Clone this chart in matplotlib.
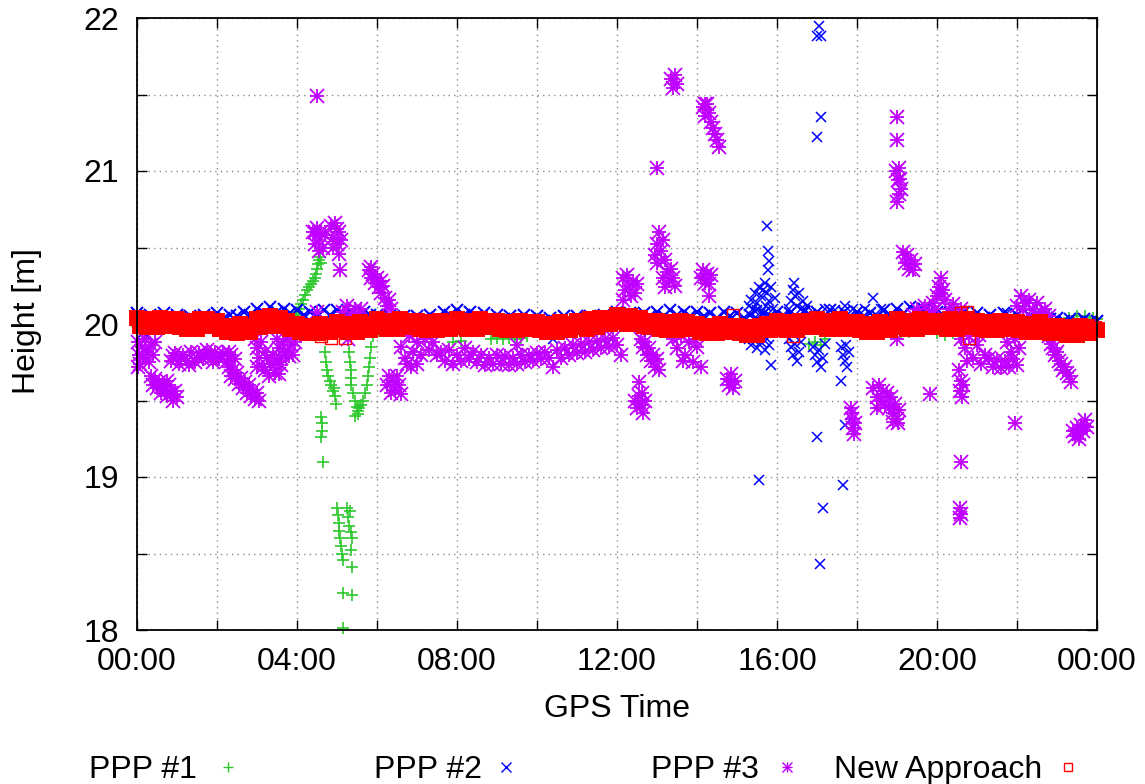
import numpy as np
import matplotlib
matplotlib.use('Agg')
import matplotlib.pyplot as plt
from matplotlib.lines import Line2D
from matplotlib.ticker import FixedLocator, FixedFormatter

plt.rcParams['font.family'] = ['Liberation Sans', 'DejaVu Sans']

series_names = ['PPP #1', 'PPP #2', 'PPP #3', 'New Approach']
series_colors = ['#2ec82e', '#0000ff', '#c000ff', '#ff0000']

hour_ticks = [0, 2, 4, 6, 8, 10, 12, 14, 16, 18, 20, 22, 24]
hour_labels = ['00:00', '', '04:00', '', '08:00', '', '12:00', '', '16:00', '', '20:00', '', '00:00']
height_ticks = [18, 18.5, 19, 19.5, 20, 20.5, 21, 21.5, 22]
height_labels = ['18', '', '19', '', '20', '', '21', '', '22']

# New Approach heights, one row per hour, 5 min epochs
new_h = [
    20.04, 19.99, 20.02, 19.98, 20.03, 20.01, 19.98, 20.04, 20.00, 20.03, 19.99, 20.02,
    20.03, 19.98, 20.01, 19.97, 20.02, 20.00, 19.97, 20.03, 19.99, 20.03, 19.99, 20.02,
    20.02, 19.97, 19.99, 19.95, 19.99, 19.97, 19.94, 20.00, 19.96, 19.99, 19.95, 19.98,
    20.03, 19.98, 20.04, 19.99, 20.05, 20.02, 19.99, 20.04, 19.99, 20.02, 19.97, 20.00,
    20.00, 19.95, 19.98, 19.94, 19.99, 19.97, 19.94, 20.00, 19.96, 19.99, 19.95, 19.98,
    20.01, 19.96, 19.99, 19.95, 20.00, 19.98, 19.95, 20.01, 19.97, 20.00, 19.96, 19.99,
    20.03, 19.98, 20.01, 19.97, 20.02, 20.00, 19.97, 20.03, 19.99, 20.02, 19.98, 20.01,
    20.02, 19.97, 20.00, 19.96, 20.01, 19.99, 19.96, 20.02, 19.98, 20.01, 19.97, 20.00,
    20.03, 19.98, 20.01, 19.97, 20.02, 20.00, 19.97, 20.03, 19.99, 20.02, 19.98, 20.01,
    20.02, 19.97, 20.00, 19.96, 20.01, 19.99, 19.96, 20.02, 19.98, 20.01, 19.97, 20.00,
    20.01, 19.96, 19.99, 19.95, 20.00, 19.98, 19.95, 20.01, 19.97, 20.00, 19.96, 19.99,
    20.02, 19.98, 20.01, 19.97, 20.03, 20.00, 19.98, 20.04, 20.00, 20.04, 20.00, 20.03,
    20.06, 20.01, 20.04, 20.00, 20.05, 20.03, 20.00, 20.04, 19.99, 20.02, 19.98, 20.01,
    20.02, 19.97, 20.00, 19.96, 20.01, 19.99, 19.96, 20.02, 19.98, 20.01, 19.97, 20.00,
    20.00, 19.95, 19.98, 19.94, 19.99, 19.97, 19.94, 20.00, 19.96, 19.99, 19.95, 19.98,
    19.99, 19.94, 19.97, 19.93, 19.98, 19.96, 19.93, 19.99, 19.96, 20.00, 19.96, 19.99,
    20.02, 19.97, 20.00, 19.96, 20.01, 19.99, 19.96, 20.02, 19.98, 20.02, 19.98, 20.01,
    20.03, 19.98, 20.01, 19.97, 20.02, 20.00, 19.97, 20.03, 19.99, 20.01, 19.97, 20.00,
    20.01, 19.96, 19.99, 19.95, 20.00, 19.98, 19.95, 20.01, 19.97, 20.00, 19.96, 19.99,
    20.03, 19.98, 20.01, 19.97, 20.02, 20.00, 19.97, 20.03, 19.99, 20.02, 19.98, 20.01,
    20.02, 19.98, 20.02, 19.97, 20.03, 20.00, 19.97, 20.02, 19.99, 20.03, 19.98, 20.01,
    20.02, 19.97, 20.00, 19.96, 20.01, 19.99, 19.96, 20.02, 19.98, 20.01, 19.97, 20.00,
    20.01, 19.96, 19.99, 19.95, 20.00, 19.98, 19.95, 20.01, 19.96, 19.99, 19.94, 19.97,
    19.99, 19.94, 19.97, 19.93, 19.98, 19.96, 19.93, 19.99, 19.95, 19.98, 19.94, 19.97,
    19.96,
]
new_extra = [(4.6, 19.92), (4.85, 19.91), (5.2, 19.91), (20.6, 20.07), (20.75, 20.08),
             (20.8, 19.91), (14.9, 20.06), (16.4, 19.92)]

# PPP #2 heights, one row per hour, 10 min epochs
ppp2_band = [
    20.07, 20.04, 20.06, 20.03, 20.07, 20.04,
    20.06, 20.03, 20.05, 20.02, 20.06, 20.04,
    20.07, 20.04, 20.06, 20.05, 20.08, 20.06,
    20.10, 20.07, 20.11, 20.08, 20.10, 20.07,
    20.09, 20.06, 20.08, 20.05, 20.09, 20.06,
    20.09, 20.06, 20.08, 20.05, 20.08, 20.06,
    20.06, 20.03, 20.05, 20.02, 20.05, 20.03,
    20.05, 20.03, 20.06, 20.04, 20.08, 20.06,
    20.09, 20.06, 20.08, 20.05, 20.07, 20.04,
    20.06, 20.03, 20.05, 20.02, 20.06, 20.03,
    20.05, 20.02, 20.04, 20.01, 20.05, 20.02,
    20.05, 20.02, 20.05, 20.03, 20.06, 20.04,
    20.08, 20.05, 20.07, 20.04, 20.07, 20.05,
    20.08, 20.05, 20.09, 20.06, 20.08, 20.05,
    20.08, 20.05, 20.07, 20.04, 20.08, 20.05,
    20.07, 20.04, 20.06, 20.03, 20.07, 20.05,
    20.08, 20.05, 20.07, 20.04, 20.08, 20.06,
    20.08, 20.05, 20.09, 20.06, 20.08, 20.05,
    20.08, 20.05, 20.07, 20.05, 20.09, 20.06,
    20.10, 20.07, 20.11, 20.08, 20.10, 20.07,
    20.08, 20.05, 20.07, 20.04, 20.08, 20.05,
    20.07, 20.04, 20.06, 20.03, 20.07, 20.04,
    20.06, 20.03, 20.05, 20.02, 20.05, 20.03,
    20.04, 20.02, 20.03, 20.01, 20.03, 20.01,
    20.02,
]
ppp2_extra = [
    (0.1, 19.93), (0.25, 19.92), (10.4, 19.9),
    (15.3, 20.12), (15.35, 20.16), (15.4, 20.1), (15.45, 20.2), (15.5, 20.14), (15.55, 20.24),
    (15.6, 20.18), (15.65, 20.22), (15.7, 20.27), (15.72, 20.12), (15.75, 20.2), (15.8, 20.15),
    (15.85, 20.24), (15.9, 20.1), (15.95, 20.17), (15.6, 20.08), (15.5, 20.09),
    (15.78, 20.35), (15.8, 20.41), (15.78, 20.48), (15.75, 20.64),
    (15.3, 19.9), (15.35, 19.86), (15.4, 19.9), (15.5, 19.84), (15.6, 19.88), (15.7, 19.83),
    (15.75, 19.9), (15.8, 19.86), (15.85, 19.73), (15.55, 18.98),
    (16.3, 20.1), (16.35, 20.15), (16.4, 20.22), (16.42, 20.27), (16.45, 20.18), (16.5, 20.12),
    (16.55, 20.2), (16.6, 20.1), (16.65, 20.15), (16.7, 20.09), (16.75, 20.12),
    (16.3, 19.9), (16.35, 19.85), (16.4, 19.8), (16.45, 19.87), (16.5, 19.76), (16.55, 19.82),
    (16.6, 19.88),
    (16.9, 19.85), (16.95, 19.8), (17.0, 19.75), (17.05, 19.83), (17.1, 19.72), (17.15, 19.78),
    (17.2, 19.87),
    (17.6, 19.85), (17.65, 19.8), (17.7, 19.76), (17.72, 19.86), (17.75, 19.72), (17.8, 19.82),
    (17.2, 20.1), (17.45, 20.09), (17.7, 20.12), (17.9, 20.1), (18.4, 20.17), (18.2, 20.1),
    (18.6, 20.1), (21.75, 20.07),
    (17.05, 21.95), (17.0, 21.88), (17.1, 21.88), (17.1, 21.35), (17.0, 21.22),
    (17.0, 19.26), (17.15, 18.8), (17.08, 18.43), (17.65, 18.95), (17.7, 19.34), (17.6, 19.63),
]

# PPP #1 heights (hour, metres)
ppp1 = [
    (0.0, 19.99), (0.3, 20.0), (0.6, 19.99), (0.9, 20.0), (1.2, 19.99), (1.5, 20.01),
    (1.8, 20.0), (2.1, 19.98), (2.4, 19.97), (2.7, 19.99), (3.0, 20.01), (3.3, 20.0),
    (3.6, 19.99),
    (3.95, 20.06), (4.0, 20.08), (4.05, 20.1), (4.1, 20.13), (4.15, 20.16), (4.2, 20.19),
    (4.25, 20.22), (4.3, 20.24), (4.35, 20.26), (4.4, 20.28), (4.45, 20.3), (4.48, 20.33),
    (4.5, 20.36), (4.52, 20.39), (4.55, 20.42), (4.58, 20.44), (4.6, 20.4),
    (4.6, 19.39), (4.62, 19.35), (4.63, 19.3), (4.6, 19.26), (4.65, 19.1),
    (4.7, 19.82), (4.72, 19.75), (4.75, 19.7), (4.78, 19.66), (4.82, 19.63), (4.86, 19.6),
    (4.9, 19.56), (4.95, 19.53), (4.97, 19.48), (4.93, 19.58),
    (5.0, 18.8), (5.02, 18.75), (5.04, 18.7), (5.06, 18.65), (5.08, 18.6), (5.1, 18.55),
    (5.12, 18.5), (5.14, 18.46), (5.25, 18.8), (5.28, 18.74), (5.3, 18.68), (5.33, 18.78),
    (5.36, 18.64), (5.38, 18.6), (5.35, 18.52), (5.37, 18.41), (5.15, 18.24), (5.38, 18.23),
    (5.16, 18.01),
    (5.3, 19.82), (5.32, 19.75), (5.34, 19.7), (5.35, 19.65), (5.36, 19.6), (5.4, 19.55),
    (5.45, 19.5), (5.5, 19.46), (5.52, 19.43), (5.55, 19.45), (5.6, 19.47), (5.65, 19.5),
    (5.7, 19.55), (5.75, 19.6), (5.78, 19.66), (5.8, 19.72), (5.83, 19.78), (5.86, 19.85),
    (5.9, 19.92), (5.95, 19.97), (5.45, 19.4), (5.53, 19.41),
    (6.3, 20.0), (6.6, 19.99), (6.9, 20.0), (7.2, 19.99), (7.5, 20.0), (7.9, 19.88),
    (8.1, 19.89), (8.4, 19.99), (8.85, 19.9), (9.0, 19.91), (9.15, 19.9), (9.3, 19.91),
    (9.45, 19.9), (9.6, 19.91), (9.75, 19.92), (10.0, 19.98), (10.5, 19.99), (11.0, 20.0),
    (11.5, 20.01), (12.0, 20.02), (12.5, 20.0), (13.0, 19.99), (13.5, 19.98), (14.0, 19.97),
    (14.5, 19.97), (15.0, 19.96), (15.5, 19.97), (16.0, 19.98), (16.5, 19.99),
    (16.8, 19.87), (16.95, 19.88), (17.1, 19.86), (17.2, 19.9), (17.5, 19.99), (18.0, 19.98),
    (18.5, 19.99), (18.9, 19.95), (19.1, 19.94), (19.3, 19.95), (19.6, 19.99),
    (20.0, 19.94), (20.2, 19.93), (20.4, 19.94), (20.6, 19.95), (21.0, 19.99), (21.5, 19.99),
    (22.0, 19.98), (22.5, 19.98), (23.0, 19.99),
    (23.3, 20.04), (23.5, 20.05), (23.7, 20.05), (23.9, 20.04), (24.0, 20.03),
]

# PPP #3 heights (hour, metres)
ppp3 = [
    (0.02, 19.88), (0.05, 19.8), (0.08, 19.74), (0.12, 19.85), (0.16, 19.78), (0.2, 19.9),
    (0.25, 19.82), (0.3, 19.75), (0.35, 19.86), (0.4, 19.8), (0.45, 19.88), (0.03, 19.72),
    (0.35, 19.66), (0.4, 19.6), (0.45, 19.64), (0.5, 19.58), (0.55, 19.62), (0.6, 19.55),
    (0.65, 19.6), (0.7, 19.57), (0.75, 19.53), (0.8, 19.6), (0.85, 19.55), (0.9, 19.5),
    (0.95, 19.56), (1.0, 19.52), (0.75, 19.63),
    (0.85, 19.76), (0.95, 19.81), (1.05, 19.74), (1.15, 19.8), (1.25, 19.76), (1.35, 19.82),
    (1.45, 19.75), (1.55, 19.81), (1.65, 19.77), (1.75, 19.83), (1.85, 19.78), (1.95, 19.82),
    (2.05, 19.77), (2.15, 19.81), (2.25, 19.76), (2.35, 19.8), (2.45, 19.77),
    (0.9, 19.79), (1.1, 19.78), (1.3, 19.73), (1.5, 19.78), (1.7, 19.8), (1.9, 19.75),
    (2.1, 19.79), (2.3, 19.82),
    (2.3, 19.72), (2.35, 19.66), (2.4, 19.7), (2.45, 19.64), (2.5, 19.68), (2.55, 19.61),
    (2.6, 19.65), (2.65, 19.58), (2.7, 19.62), (2.75, 19.55), (2.8, 19.6), (2.85, 19.53),
    (2.9, 19.57), (2.95, 19.51), (3.0, 19.55), (3.05, 19.5),
    (2.95, 19.9), (3.0, 19.84), (3.05, 19.78), (3.1, 19.88), (3.15, 19.72), (3.2, 19.82),
    (3.0, 19.72),
    (3.2, 19.7), (3.25, 19.78), (3.3, 19.66), (3.35, 19.74), (3.4, 19.8), (3.45, 19.68),
    (3.5, 19.75), (3.55, 19.67), (3.6, 19.73),
    (3.5, 19.9), (3.55, 19.84), (3.6, 19.78), (3.65, 19.88), (3.7, 19.82), (3.75, 19.9),
    (3.8, 19.79), (3.85, 19.86), (3.9, 19.8), (3.95, 19.88),
    (4.5, 21.49),
    (4.4, 20.6), (4.45, 20.52), (4.5, 20.63), (4.55, 20.55), (4.6, 20.6), (4.65, 20.5),
    (4.7, 20.58), (4.45, 20.6), (4.55, 20.48),
    (4.85, 20.64), (4.9, 20.56), (4.95, 20.66), (5.0, 20.52), (5.05, 20.6), (5.1, 20.55),
    (5.0, 20.62), (4.9, 20.5),
    (5.05, 20.46), (5.08, 20.35), (4.5, 20.08),
    (5.15, 20.08), (5.25, 20.12), (5.35, 20.06), (5.45, 20.1), (5.55, 20.05), (5.6, 20.1),
    (5.28, 19.9),
    (5.8, 20.35), (5.85, 20.3), (5.9, 20.33), (5.95, 20.27), (6.0, 20.3), (6.05, 20.24),
    (6.1, 20.2), (6.15, 20.25), (6.2, 20.17), (6.25, 20.12), (6.3, 20.16), (6.35, 20.1),
    (5.85, 20.37), (6.1, 20.28),
    (6.25, 19.6), (6.3, 19.66), (6.35, 19.55), (6.4, 19.63), (6.45, 19.57), (6.5, 19.66),
    (6.55, 19.6), (6.6, 19.54),
    (6.6, 19.85), (6.7, 19.78), (6.8, 19.92), (6.85, 19.72), (6.9, 19.82), (7.0, 19.88),
    (7.1, 19.8), (7.2, 19.9), (7.3, 19.83), (7.4, 19.88), (7.5, 19.8), (6.75, 19.74),
    (7.0, 19.74),
    (7.6, 19.82), (7.7, 19.76), (7.8, 19.83), (7.9, 19.74), (8.0, 19.8), (8.1, 19.76),
    (8.2, 19.84), (8.3, 19.77), (8.4, 19.82), (8.5, 19.75), (8.6, 19.8), (8.7, 19.73),
    (8.8, 19.78), (8.9, 19.74),
    (9.0, 19.8), (9.1, 19.74), (9.2, 19.79), (9.3, 19.73), (9.4, 19.78), (9.5, 19.74),
    (9.6, 19.8), (9.7, 19.75), (9.8, 19.8), (9.9, 19.76), (10.0, 19.81), (10.1, 19.77),
    (10.2, 19.82), (10.3, 19.78), (10.4, 19.72), (9.5, 19.86),
    (10.5, 19.83), (10.6, 19.78), (10.7, 19.84), (10.8, 19.8), (10.9, 19.86), (11.0, 19.81),
    (11.1, 19.87), (11.2, 19.82), (11.3, 19.88), (11.4, 19.83), (11.5, 19.89), (11.6, 19.84),
    (11.7, 19.9), (11.8, 19.85), (11.9, 19.91), (12.0, 19.86), (12.1, 19.8),
    (12.15, 20.3), (12.2, 20.22), (12.25, 20.32), (12.3, 20.25), (12.35, 20.18), (12.4, 20.28),
    (12.45, 20.2), (12.5, 20.26), (12.15, 20.16),
    (12.6, 19.9), (12.65, 19.85), (12.7, 19.88), (12.75, 19.8), (12.8, 19.84), (12.85, 19.76),
    (12.9, 19.8), (12.95, 19.72), (13.0, 19.77), (13.05, 19.7),
    (12.45, 19.5), (12.5, 19.45), (12.55, 19.53), (12.6, 19.47), (12.65, 19.42), (12.7, 19.5),
    (12.55, 19.62), (12.62, 19.55),
    (13.0, 21.02),
    (12.95, 20.45), (13.0, 20.52), (13.05, 20.6), (13.1, 20.48), (13.15, 20.55), (13.2, 20.42),
    (13.0, 20.4),
    (13.15, 20.3), (13.2, 20.24), (13.25, 20.34), (13.3, 20.28), (13.35, 20.36), (13.4, 20.3),
    (13.45, 20.25),
    (13.35, 21.6), (13.4, 21.54), (13.45, 21.63), (13.5, 21.57),
    (14.15, 21.42), (14.2, 21.36), (14.25, 21.44), (14.3, 21.38), (14.35, 21.32), (14.4, 21.28),
    (14.45, 21.24), (14.5, 21.2), (14.55, 21.16), (14.2, 21.44),
    (14.1, 20.3), (14.15, 20.35), (14.2, 20.27), (14.25, 20.33), (14.3, 20.26), (14.35, 20.32),
    (14.3, 20.18),
    (13.4, 19.9), (13.5, 19.84), (13.6, 19.92), (13.7, 19.8), (13.8, 19.88), (13.9, 19.75),
    (14.0, 19.85), (14.1, 19.72), (13.65, 19.76), (13.95, 19.9),
    (14.75, 19.64), (14.8, 19.6), (14.85, 19.67), (14.9, 19.58), (14.95, 19.63),
    (17.85, 19.45), (17.88, 19.38), (17.9, 19.32), (17.92, 19.28), (17.88, 19.42),
    (17.95, 19.35),
    (18.4, 19.58), (18.5, 19.52), (18.55, 19.6), (18.6, 19.5), (18.65, 19.56), (18.7, 19.47),
    (18.75, 19.55), (18.8, 19.45), (18.85, 19.52), (18.9, 19.42), (18.95, 19.48), (19.0, 19.38),
    (19.02, 19.35), (19.05, 19.44), (18.9, 19.36), (18.5, 19.45),
    (19.0, 21.35), (19.0, 21.2),
    (18.98, 21.0), (19.02, 20.94), (19.06, 21.02), (19.1, 20.88), (19.04, 20.85), (19.08, 20.95),
    (19.0, 20.8),
    (19.15, 20.47), (19.2, 20.4), (19.25, 20.45), (19.3, 20.36), (19.35, 20.42), (19.4, 20.35),
    (19.45, 20.39),
    (19.4, 20.06), (19.5, 20.1), (19.6, 20.05), (19.7, 20.12), (19.8, 20.08), (19.9, 20.14),
    (20.0, 20.18), (20.05, 20.24), (20.1, 20.3), (20.15, 20.22), (20.2, 20.16), (20.3, 20.1),
    (20.4, 20.13), (20.5, 20.07), (20.6, 20.1), (20.1, 20.2), (19.95, 20.1),
    (19.83, 19.54), (19.0, 19.9),
    (20.6, 19.9), (20.7, 19.84), (20.8, 19.92), (20.9, 19.78), (21.0, 19.86), (21.1, 19.74),
    (21.2, 19.8), (20.75, 19.76), (21.05, 19.93),
    (20.55, 19.7), (20.6, 19.63), (20.58, 19.56), (20.65, 19.6), (20.62, 19.52),
    (20.6, 19.1), (20.58, 18.8), (20.6, 18.76), (20.58, 18.73),
    (21.3, 19.78), (21.4, 19.72), (21.5, 19.77), (21.6, 19.71), (21.7, 19.76), (21.8, 19.72),
    (21.9, 19.77), (22.0, 19.73),
    (21.75, 19.88), (21.85, 19.82), (21.95, 19.9), (22.05, 19.84),
    (21.95, 19.35),
    (22.0, 20.12), (22.1, 20.18), (22.2, 20.14), (22.3, 20.16), (22.4, 20.1), (22.5, 20.14),
    (22.6, 20.08), (22.7, 20.1), (22.8, 20.05), (22.15, 20.09), (22.45, 20.06),
    (22.8, 19.92), (22.85, 19.87), (22.9, 19.84), (22.95, 19.8), (23.0, 19.82), (23.05, 19.76),
    (23.1, 19.74), (23.15, 19.7), (23.2, 19.72), (23.25, 19.68), (23.3, 19.66), (23.35, 19.62),
    (23.4, 19.3), (23.45, 19.27), (23.5, 19.32), (23.55, 19.28), (23.6, 19.34), (23.65, 19.3),
    (23.7, 19.37), (23.75, 19.33), (23.55, 19.25),
]

fig = plt.figure(figsize=(11.45, 7.84), dpi=100)
ax = fig.add_axes([137 / 1145, 1 - 630 / 784, 960 / 1145, 612 / 784])

p1 = np.array(ppp1)
ax.plot(p1[:, 0], p1[:, 1], ls='none', marker='+', ms=9, mew=1.2,
        color=series_colors[0], clip_on=False)

band2_t = np.arange(len(ppp2_band)) * 10 / 60
ax.plot(band2_t, ppp2_band, ls='none', marker='x', ms=9, mew=1.5,
        color=series_colors[1], clip_on=False)
p2 = np.array(ppp2_extra)
ax.plot(p2[:, 0], p2[:, 1], ls='none', marker='x', ms=7.5, mew=1.1,
        color=series_colors[1], clip_on=False)

# gnuplot style asterisk: plus and cross on the same point
p3 = np.array(ppp3)
for m in ['+', 'x']:
    ax.plot(p3[:, 0], p3[:, 1], ls='none', marker=m, ms=9.5, mew=1.3,
            color=series_colors[2], clip_on=False)

# the 5 min squares overlap so closely that the band reads as solid red
new_t = np.arange(len(new_h)) * 5 / 60
ax.plot(new_t, new_h, ls='none', marker='s', ms=10, mew=1.4, mfc=series_colors[3],
        color=series_colors[3], clip_on=False)
pn = np.array(new_extra)
ax.plot(pn[:, 0], pn[:, 1], ls='none', marker='s', ms=8, mew=1.0, mfc='none',
        color=series_colors[3], clip_on=False)

ax.set_xlim(0, 24)
ax.set_ylim(18, 22)
ax.xaxis.set_major_locator(FixedLocator(hour_ticks))
ax.xaxis.set_major_formatter(FixedFormatter(hour_labels))
ax.yaxis.set_major_locator(FixedLocator(height_ticks))
ax.yaxis.set_major_formatter(FixedFormatter(height_labels))
ax.tick_params(axis='both', direction='in', length=7, width=1.0, labelsize=23,
               top=True, right=True)
ax.tick_params(axis='x', pad=12)
ax.tick_params(axis='y', pad=13)
ax.grid(True, color='#8c8c8c', linestyle=(0, (1, 3)), linewidth=1.0)
ax.set_axisbelow(True)
for s in ax.spines.values():
    s.set_linewidth(1.3)

ax.set_xlabel('GPS Time', fontsize=23)
ax.set_ylabel('Height [m]', fontsize=23)
ax.xaxis.set_label_coords(0.5, (630 - 694) / 612)
ax.yaxis.set_label_coords((42 - 137) / 960, 0.505)

# key row below the plot: label text right aligned, sample point after it
key_text_x = [197, 482, 759, 1042]
key_mark_x = [228, 506, 787, 1068]
key_markers = ['+', 'x', '*', 's']
for name, col, tx, mx, mk in zip(series_names, series_colors, key_text_x, key_mark_x, key_markers):
    fig.text(tx / 1145, 1 - 778 / 784, name, ha='right', va='baseline', fontsize=23)
    my = 1 - 767 / 784
    marks = ['+', 'x'] if mk == '*' else [mk]
    for m in marks:
        fig.add_artist(Line2D([mx / 1145], [my], ls='none', marker=m, ms=7.5 if mk != 's' else 6,
                              mew=1.0, color=col, mfc='none', transform=fig.transFigure))

fig.savefig('out.png', dpi=100)
